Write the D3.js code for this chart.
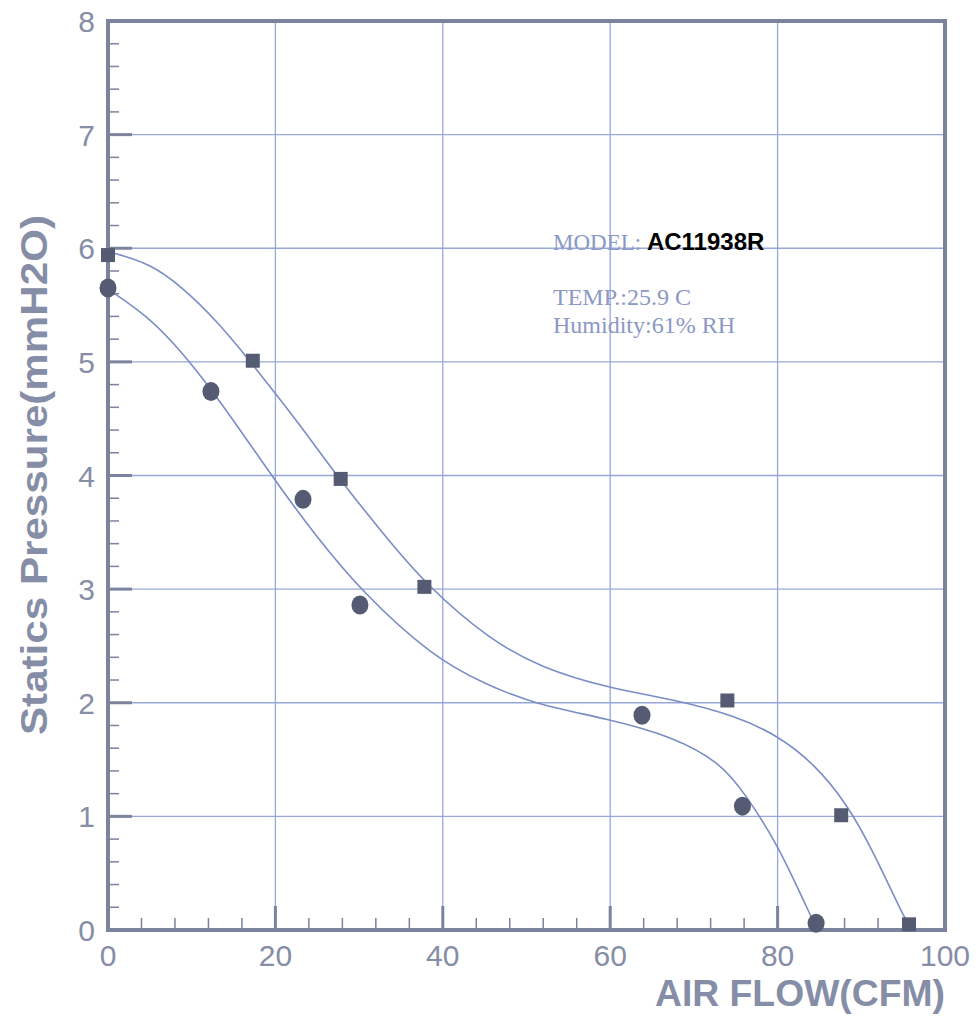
<!DOCTYPE html>
<html>
<head>
<meta charset="utf-8">
<script src="https://cdn.jsdelivr.net/npm/d3@7"></script>
<style>
  body { margin: 0; background: #fff; }
  svg { display: block; }
</style>
</head>
<body>
<div id="chart"></div>
<script>
// measured points, square markers (upper curve)
var squareX = [0, 17.3, 27.8, 37.8, 74.0, 87.6, 95.7];
var squareY = [5.94, 5.01, 3.97, 3.02, 2.02, 1.01, 0.05];
// measured points, round markers (lower curve)
var circleX = [0, 12.3, 23.3, 30.1, 63.8, 75.8, 84.6];
var circleY = [5.65, 4.74, 3.79, 2.86, 1.89, 1.09, 0.06];

// fitted curves
var upperX = [0, 5, 9, 13, 16.6, 19.7, 23, 26.9, 32.5, 38.2, 45.7, 51.7, 59.7, 67.6, 75.2, 80, 84.3, 88.4, 91.5, 95.1, 95.7];
var upperY = [5.97, 5.87, 5.65, 5.36, 5.04, 4.75, 4.44, 4.04, 3.52, 3.02, 2.55, 2.31, 2.13, 2.03, 1.88, 1.71, 1.47, 1.10, 0.68, 0.11, 0.05];
var lowerX = [0, 5, 9, 12.2, 15.8, 20.6, 24.5, 30.5, 38.9, 44.9, 50.8, 59.7, 67.6, 73.2, 76, 80, 84, 84.6];
var lowerY = [5.64, 5.39, 5.07, 4.77, 4.40, 3.89, 3.50, 2.96, 2.40, 2.17, 1.99, 1.86, 1.70, 1.47, 1.21, 0.76, 0.11, 0.04];

var xTicks = [0, 20, 40, 60, 80, 100];
var yTicks = [0, 1, 2, 3, 4, 5, 6, 7, 8];
var infoLines = ['TEMP.:25.9 C', 'Humidity:61% RH'];

var width = 979,
  height = 1020;

var svg = d3.select('#chart')
  .append('svg')
  .attr('width', width)
  .attr('height', height);

var x = d3.scaleLinear().domain([0, 100]).range([108, 945]);
var y = d3.scaleLinear().domain([0, 8]).range([930, 21]);

var gridColor = '#97a8d8',
  frameColor = '#7b839d',
  lineColor = '#7a8dc6',
  markColor = '#555b72',
  labelColor = '#868da6';

// grid
svg.append('g')
  .selectAll('line')
  .data(xTicks.slice(1, -1))
  .join('line')
  .attr('x1', function(d) { return x(d); })
  .attr('x2', function(d) { return x(d); })
  .attr('y1', y(8))
  .attr('y2', y(0))
  .attr('stroke', gridColor)
  .attr('stroke-width', 1.3);

svg.append('g')
  .selectAll('line')
  .data(yTicks.slice(1, -1))
  .join('line')
  .attr('x1', x(0))
  .attr('x2', x(100))
  .attr('y1', function(d) { return y(d); })
  .attr('y2', function(d) { return y(d); })
  .attr('stroke', gridColor)
  .attr('stroke-width', 1.3);

// minor ticks
var xMinor = d3.range(0, 101, 4).filter(function(d) { return d % 20 !== 0; });
var yMinor = d3.range(0, 40).map(function(d) { return d / 5; }).filter(function(d, i) { return i % 5 !== 0; });

svg.append('g')
  .selectAll('line')
  .data(xMinor)
  .join('line')
  .attr('x1', function(d) { return x(d); })
  .attr('x2', function(d) { return x(d); })
  .attr('y1', y(0))
  .attr('y2', y(0) - 12)
  .attr('stroke', frameColor)
  .attr('stroke-width', 1.5);

svg.append('g')
  .selectAll('line')
  .data(yMinor)
  .join('line')
  .attr('x1', x(0))
  .attr('x2', x(0) + 11)
  .attr('y1', function(d) { return y(d); })
  .attr('y2', function(d) { return y(d); })
  .attr('stroke', frameColor)
  .attr('stroke-width', 1.5);

// major ticks
svg.append('g')
  .selectAll('line')
  .data(xTicks.slice(1, -1))
  .join('line')
  .attr('x1', function(d) { return x(d); })
  .attr('x2', function(d) { return x(d); })
  .attr('y1', y(0))
  .attr('y2', y(0) - 24)
  .attr('stroke', frameColor)
  .attr('stroke-width', 3);

svg.append('g')
  .selectAll('line')
  .data(yTicks.slice(1, -1))
  .join('line')
  .attr('x1', x(0))
  .attr('x2', x(0) + 24)
  .attr('y1', function(d) { return y(d); })
  .attr('y2', function(d) { return y(d); })
  .attr('stroke', frameColor)
  .attr('stroke-width', 3);

// frame
svg.append('rect')
  .attr('x', x(0))
  .attr('y', y(8))
  .attr('width', x(100) - x(0))
  .attr('height', y(0) - y(8))
  .attr('fill', 'none')
  .attr('stroke', frameColor)
  .attr('stroke-width', 4);

// curves
var line = d3.line()
  .x(function(d) { return x(d[0]); })
  .y(function(d) { return y(d[1]); })
  .curve(d3.curveBasis);

svg.append('path')
  .datum(d3.zip(upperX, upperY))
  .attr('d', line)
  .attr('fill', 'none')
  .attr('stroke', lineColor)
  .attr('stroke-width', 1.6);

svg.append('path')
  .datum(d3.zip(lowerX, lowerY))
  .attr('d', line)
  .attr('fill', 'none')
  .attr('stroke', lineColor)
  .attr('stroke-width', 1.6);

// markers
svg.append('g')
  .selectAll('rect')
  .data(d3.zip(squareX, squareY))
  .join('rect')
  .attr('x', function(d) { return x(d[0]) - 7; })
  .attr('y', function(d) { return y(d[1]) - 7; })
  .attr('width', 14)
  .attr('height', 14)
  .attr('fill', markColor);

svg.append('g')
  .selectAll('ellipse')
  .data(d3.zip(circleX, circleY))
  .join('ellipse')
  .attr('cx', function(d) { return x(d[0]); })
  .attr('cy', function(d) { return y(d[1]); })
  .attr('rx', 8.5)
  .attr('ry', 9.5)
  .attr('fill', markColor);

// tick labels
svg.append('g')
  .selectAll('text')
  .data(yTicks)
  .join('text')
  .attr('x', 95)
  .attr('y', function(d) { return y(d) + 11; })
  .attr('text-anchor', 'end')
  .attr('font-family', 'Liberation Sans, Arial, sans-serif')
  .attr('font-size', 30)
  .attr('fill', labelColor)
  .text(function(d) { return d; });

svg.append('g')
  .selectAll('text')
  .data(xTicks)
  .join('text')
  .attr('x', function(d) { return x(d); })
  .attr('y', 966)
  .attr('text-anchor', 'middle')
  .attr('font-family', 'Liberation Sans, Arial, sans-serif')
  .attr('font-size', 30)
  .attr('fill', labelColor)
  .text(function(d) { return d; });

// axis titles
svg.append('text')
  .attr('transform', 'translate(47,475) rotate(-90)')
  .attr('text-anchor', 'middle')
  .attr('font-family', 'Liberation Sans, Arial, sans-serif')
  .attr('font-weight', 'bold')
  .attr('font-size', 37)
  .attr('textLength', 520)
  .attr('lengthAdjust', 'spacingAndGlyphs')
  .attr('fill', labelColor)
  .text('Statics Pressure(mmH2O)');

svg.append('text')
  .attr('x', 945)
  .attr('y', 1006)
  .attr('text-anchor', 'end')
  .attr('font-family', 'Liberation Sans, Arial, sans-serif')
  .attr('font-weight', 'bold')
  .attr('font-size', 37)
  .attr('textLength', 290)
  .attr('lengthAdjust', 'spacingAndGlyphs')
  .attr('fill', labelColor)
  .text('AIR FLOW(CFM)');

// model info
var model = svg.append('text')
  .attr('x', 553)
  .attr('y', 250);
model.append('tspan')
  .attr('font-family', 'Liberation Serif, Times New Roman, serif')
  .attr('font-size', 23)
  .attr('fill', '#8b98c4')
  .text('MODEL: ');
model.append('tspan')
  .attr('font-family', 'Liberation Sans, Arial, sans-serif')
  .attr('font-weight', 'bold')
  .attr('font-size', 24)
  .attr('fill', '#000')
  .text('AC11938R');

svg.append('g')
  .selectAll('text')
  .data(infoLines)
  .join('text')
  .attr('x', 553)
  .attr('y', function(d, i) { return 305 + i * 28; })
  .attr('font-family', 'Liberation Serif, Times New Roman, serif')
  .attr('font-size', 24)
  .attr('fill', '#8b98c4')
  .text(function(d) { return d; });
</script>
</body>
</html>
